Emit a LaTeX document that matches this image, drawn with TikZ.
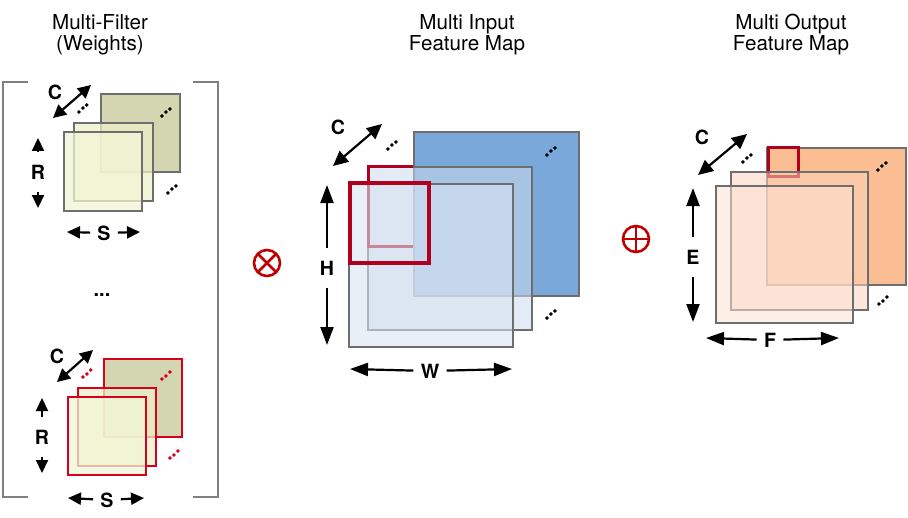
\documentclass[tikz,border=0pt]{standalone}
\usepackage{fontspec}
\setmainfont{TeX Gyre Heros}
\usetikzlibrary{arrows.meta}
\definecolor{framegray}{HTML}{6E6E6E}
\definecolor{bracketgray}{HTML}{808080}
\definecolor{filterback}{HTML}{D3D6B1}
\definecolor{filtermid}{HTML}{ECF0C8}
\definecolor{filterfront}{HTML}{F2F6D6}
\definecolor{filterred}{HTML}{D9001B}
\definecolor{inback}{HTML}{7BA8DB}
\definecolor{inmid}{HTML}{CCDCEE}
\definecolor{infront}{HTML}{D8E4F1}
\definecolor{outback}{HTML}{FBBE92}
\definecolor{outmid}{HTML}{FCD3BB}
\definecolor{outfront}{HTML}{FDE1D1}
\definecolor{winred}{HTML}{B0001E}
\definecolor{opred}{HTML}{C00000}
\tikzset{
  layer/.style={draw=framegray, line width=1pt},
  bracket/.style={draw=bracketgray, line width=1pt},
  dimarrow/.style={-{Triangle[length=9pt,width=6.5pt]}, line width=1.1pt},
  smallarrow/.style={-{Triangle[length=6.5pt,width=6pt]}, line width=1.1pt},
  chanarrow/.style={{Triangle[length=7.5pt,width=7pt]}-{Triangle[length=7.5pt,width=7pt]}, line width=1.1pt},
  smallchan/.style={{Triangle[length=6.5pt,width=6.5pt]}-{Triangle[length=6.5pt,width=6.5pt]}, line width=1.1pt},
  dimlabel/.style={font=\fontsize{9.8}{11}\selectfont\bfseries, inner xsep=3.5pt, inner ysep=6pt},
  title/.style={align=center, anchor=north, inner sep=0pt, font=\fontsize{10.3}{10.5}\selectfont},
  moredots/.style={rotate=45, inner sep=0pt, font=\fontsize{10}{10}\selectfont\bfseries},
  opsign/.style={circle, draw=opred, line width=1.3pt, minimum size=13pt, inner sep=0pt, outer sep=0pt},
  opline/.style={draw=opred, line width=1.3pt}
}
\begin{document}
\begin{tikzpicture}[x=0.5pt, y=-0.5pt]
\useasboundingbox (0,0) rectangle (908,518);
% titles
\node[title] (filtertitle) at (100,14) {Multi-Filter\\(Weights)};
\node[title] (intitle) at (467,14) {Multi Input\\Feature Map};
\node[title] (outtitle) at (791,14) {Multi Output\\Feature Map};
% filter brackets
\draw[bracket] (28,82) -- (3,82) -- (3,497) -- (28,497);
\draw[bracket] (193,82) -- (218,82) -- (218,497) -- (193,497);
% first filter
\filldraw[layer, fill=filterback] (101,94) rectangle (180,172);
\filldraw[layer, fill=filtermid, fill opacity=0.75] (74,123) rectangle (153,201);
\filldraw[layer, fill=filterfront, fill opacity=0.75] (64,132) rectangle (142,211);
\node[moredots] (fadots1) at (83,109) {...};
\node[moredots] (fadots2) at (166,113) {...};
\node[moredots] (fadots3) at (172,190) {...};
\node[dimlabel] (fac) at (55,92) {C};
\coordinate (fac1) at (53,118);
\coordinate (fac2) at (91,85);
\draw[smallchan] (fac1) -- (fac2);
\node[dimlabel] (far) at (38,172) {R};
\coordinate (fartop) at (38,138);
\coordinate (farbot) at (38,208);
\draw[smallarrow] (far) -- (fartop);
\draw[smallarrow] (far) -- (farbot);
\node[dimlabel] (fas) at (104,233) {S};
\coordinate (fasleft) at (67,232);
\coordinate (fasright) at (140,232);
\draw[smallarrow] (fas) -- (fasleft);
\draw[smallarrow] (fas) -- (fasright);
\node[font=\fontsize{10}{10}\selectfont\bfseries] (moreflt) at (102,295) {...};
% last filter
\filldraw[line width=1pt, draw=filterred, fill=filterback] (104,359) rectangle (182,437);
\filldraw[line width=1pt, draw=filterred, fill=filtermid, fill opacity=0.75] (78,388) rectangle (156,466);
\filldraw[line width=1pt, draw=filterred, fill=filterfront, fill opacity=0.75] (68,397) rectangle (146,475);
\node[moredots, filterred] (fbdots1) at (87,374) {...};
\node[moredots, filterred] (fbdots2) at (166,376) {...};
\node[moredots, filterred] (fbdots3) at (174,455) {...};
\node[dimlabel] (fbc) at (57,356) {C};
\coordinate (fbc1) at (57,382);
\coordinate (fbc2) at (93,350);
\draw[smallchan] (fbc1) -- (fbc2);
\node[dimlabel] (fbr) at (42,437) {R};
\coordinate (fbrtop) at (42,398);
\coordinate (fbrbot) at (42,473);
\draw[smallarrow] (fbr) -- (fbrtop);
\draw[smallarrow] (fbr) -- (fbrbot);
\node[dimlabel] (fbs) at (107,500) {S};
\coordinate (fbsleft) at (68,498);
\coordinate (fbsright) at (144,498);
\draw[smallarrow] (fbs) -- (fbsleft);
\draw[smallarrow] (fbs) -- (fbsright);
% convolution sign
\node[opsign] (conv) at (267,263) {};
\draw[opline] (conv.north west) -- (conv.south east);
\draw[opline] (conv.north east) -- (conv.south west);
% input feature map
\filldraw[layer, fill=inback] (414,132) rectangle (579,296);
\filldraw[layer, fill=inmid, fill opacity=0.55] (368,167) rectangle (532,330);
\draw[winred, line width=1.5pt] (413,167) -- (368,167) -- (368,246) -- (413,246);
\filldraw[layer, fill=infront, fill opacity=0.6] (349,184) rectangle (513,347);
\draw[winred, line width=2pt] (350,183) rectangle (429,263);
\node[moredots] (indots1) at (392,146) {...};
\node[moredots] (indots2) at (551,152) {...};
\node[moredots] (indots3) at (551,315) {...};
\node[dimlabel] (inc) at (338,127) {C};
\coordinate (inc1) at (333,166);
\coordinate (inc2) at (382,124);
\draw[chanarrow] (inc1) -- (inc2);
\node[dimlabel] (inh) at (327,268) {H};
\coordinate (inhtop) at (327,185);
\coordinate (inhbot) at (327,345);
\draw[dimarrow] (inh) -- (inhtop);
\draw[dimarrow] (inh) -- (inhbot);
\node[dimlabel] (inw) at (430,371) {W};
\coordinate (inwleft) at (350,369);
\coordinate (inwright) at (512,369);
\draw[dimarrow] (inw) -- (inwleft);
\draw[dimarrow] (inw) -- (inwright);
% accumulation sign
\node[opsign] (accum) at (636,239) {};
\draw[opline] (accum.north) -- (accum.south);
\draw[opline] (accum.west) -- (accum.east);
% output feature map
\filldraw[layer, fill=outback] (767,148) rectangle (906,285);
\draw[winred, line width=1.5pt] (768,148) rectangle (798,177);
\filldraw[layer, fill=outmid, fill opacity=0.55] (731,172) rectangle (868,310);
\filldraw[layer, fill=outfront, fill opacity=0.55] (716,186) rectangle (853,323);
\node[moredots] (outdots1) at (747,159) {...};
\node[moredots] (outdots2) at (882,167) {...};
\node[moredots] (outdots3) at (883,301) {...};
\node[dimlabel] (outc) at (702,137) {C};
\coordinate (outc1) at (698,175);
\coordinate (outc2) at (747,134);
\draw[chanarrow] (outc1) -- (outc2);
\node[dimlabel] (oute) at (693,257) {E};
\coordinate (outetop) at (693,188);
\coordinate (outebot) at (693,322);
\draw[dimarrow] (oute) -- (outetop);
\draw[dimarrow] (oute) -- (outebot);
\node[dimlabel] (outf) at (770,340) {F};
\coordinate (outfleft) at (706,338);
\coordinate (outfright) at (839,338);
\draw[dimarrow] (outf) -- (outfleft);
\draw[dimarrow] (outf) -- (outfright);
\end{tikzpicture}
\end{document}
